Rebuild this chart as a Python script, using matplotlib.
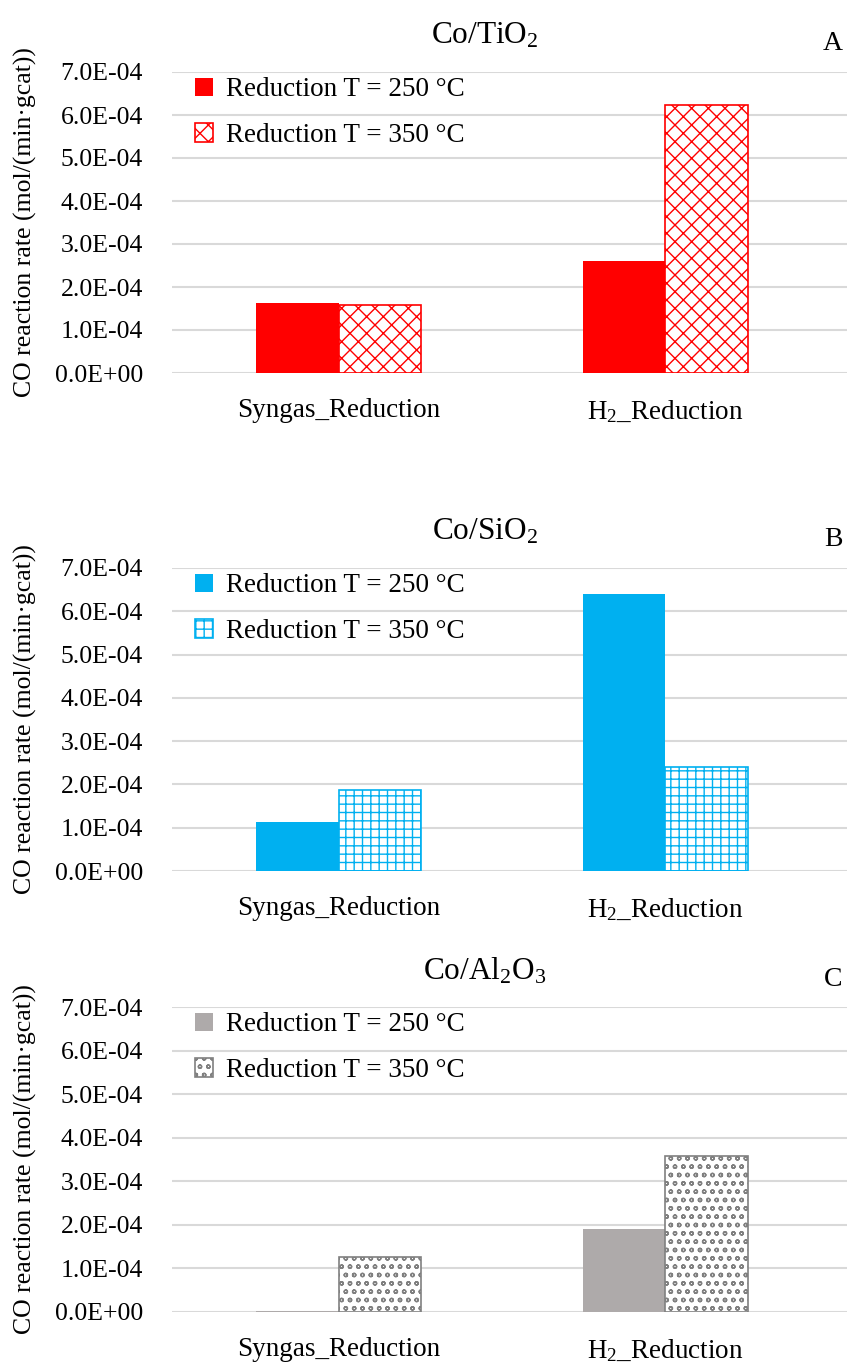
import matplotlib
matplotlib.use("Agg")
import matplotlib.pyplot as plt
from matplotlib.ticker import FuncFormatter, MultipleLocator
import numpy as np

plt.rcParams['font.family'] = ['Liberation Serif', 'DejaVu Serif']
plt.rcParams['mathtext.fontset'] = 'custom'
plt.rcParams['mathtext.rm'] = 'Liberation Serif'
plt.rcParams['mathtext.it'] = 'Liberation Serif:italic'
plt.rcParams['hatch.linewidth'] = 1.0

categories = ['Syngas_Reduction', 'H$_2$_Reduction']
series_labels = ['Reduction T = 250 °C', 'Reduction T = 350 °C']

tio2_250 = [1.63e-4, 2.61e-4]
tio2_350 = [1.57e-4, 6.23e-4]
sio2_250 = [1.13e-4, 6.40e-4]
sio2_350 = [1.87e-4, 2.40e-4]
al2o3_250 = [0.03e-4, 1.91e-4]
al2o3_350 = [1.26e-4, 3.58e-4]

panels = [
    ('Co/TiO$_2$', 'A', tio2_250, tio2_350, '#FF0000', '#FF0000', 'xx'),
    ('Co/SiO$_2$', 'B', sio2_250, sio2_350, '#00B0F0', '#00B0F0', '++'),
    ('Co/Al$_2$O$_3$', 'C', al2o3_250, al2o3_350, '#AEAAAA', '#808080', 'oo'),
]

W, H = 847, 1362
fig = plt.figure(figsize=(W / 100, H / 100), dpi=100)

# pixel positions of the plot areas (top of 7.0E-04 line, zero line)
areas = [(72, 373), (568, 871), (1007, 1312)]
title_y = [36, 532, 971]
letter_y = [44, 540, 980]

left, right = 172, 847
bw = 0.253
x = np.arange(len(categories))

for (title, letter, v250, v350, col, hcol, hatch), (top, bot), ty, ly in zip(panels, areas, title_y, letter_y):
    ax = fig.add_axes([left / W, 1 - bot / H, (right - left) / W, (bot - top) / H])
    ax.bar(x - bw / 2, v250, bw, color=col, label=series_labels[0], zorder=3)
    ax.bar(x + bw / 2, v350, bw, facecolor='white', edgecolor=hcol, hatch=hatch,
           linewidth=1.2, label=series_labels[1], zorder=3)
    ax.set_ylim(0, 7e-4)
    ax.set_xlim(-0.512, 1.558)
    ax.yaxis.set_major_locator(MultipleLocator(1e-4))
    ax.yaxis.set_major_formatter(FuncFormatter(lambda v, p: f"{v:.1E}"))
    ax.grid(axis='y', color='#D9D9D9', linewidth=1.5, zorder=0)
    for s in ax.spines.values():
        s.set_visible(False)
    ax.tick_params(length=0)
    ax.tick_params(axis='y', pad=21, labelsize=18.5)
    ax.tick_params(axis='x', pad=18, labelsize=19.5)
    ax.set_xticks(x)
    ax.set_xticklabels(categories)
    ax.legend(loc='upper left', bbox_to_anchor=(0.034, 0.982), frameon=False,
              fontsize=19.5, borderpad=0, borderaxespad=0,
              handlelength=0.67, handleheight=0.67, handletextpad=0.48,
              labelspacing=0.76)
    fig.text(485 / W, 1 - ty / H, title, ha='center', va='center', fontsize=22.5)
    fig.text(833 / W, 1 - ly / H, letter, ha='center', va='center', fontsize=20)
    fig.text(25 / W, 1 - (top + bot) / 2 / H, 'CO reaction rate (mol/(min·gcat))',
             rotation=90, ha='center', va='center', fontsize=18.5)

fig.savefig('out.png', dpi=100)
